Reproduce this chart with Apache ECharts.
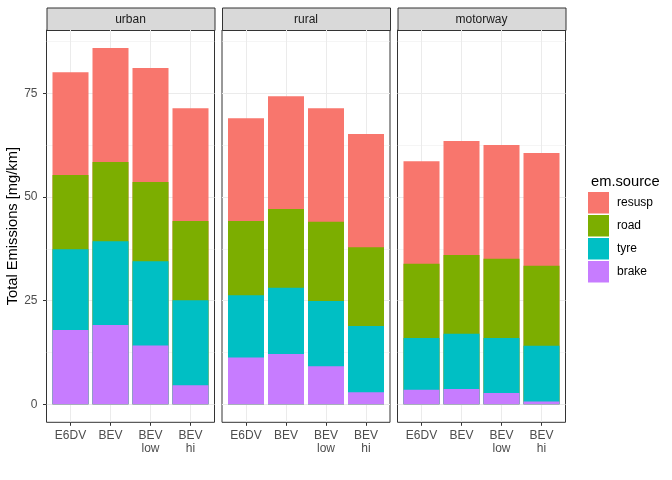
<!doctype html>
<html>
<head>
<meta charset="utf-8">
<script src="https://cdn.jsdelivr.net/npm/echarts@6/dist/echarts.min.js"></script>
<style>
    html, body { margin: 0; padding: 0; background: #fff; }
    #main { width: 672px; height: 480px; }
</style>
</head>
<body>
<div id="main"></div>
<script>
// data (segment sizes, mg/km)
var categories = ['E6DV', 'BEV', 'BEV\nlow', 'BEV\nhi'];
var panels = ['urban', 'rural', 'motorway'];
var sources = ['resusp', 'road', 'tyre', 'brake'];   // legend order
var stackOrder = ['brake', 'tyre', 'road', 'resusp']; // bottom to top
var colors = { resusp: '#F8766D', road: '#7CAE00', tyre: '#00BFC4', brake: '#C77CFF' };

var brakeUrban  = [17.9, 19.1, 14.2, 4.6];
var tyreUrban   = [19.5, 20.2, 20.3, 20.5];
var roadUrban   = [17.9, 19.1, 19.1, 19.1];
var resuspUrban = [24.8, 27.5, 27.5, 27.2];

var brakeRural  = [11.3, 12.1, 9.2, 2.9];
var tyreRural   = [15.0, 16.0, 15.7, 16.0];
var roadRural   = [17.9, 19.0, 19.1, 19.0];
var resuspRural = [24.8, 27.2, 27.4, 27.3];

var brakeMotorway  = [3.5, 3.7, 2.7, 0.7];
var tyreMotorway   = [12.5, 13.3, 13.3, 13.4];
var roadMotorway   = [17.9, 19.0, 19.1, 19.3];
var resuspMotorway = [24.7, 27.5, 27.4, 27.2];

var yTicks = [0, 25, 50, 75];
var yMinor = [12.5, 37.5, 62.5, 87.5];

var panelData = {
    urban:    { brake: brakeUrban, tyre: tyreUrban, road: roadUrban, resusp: resuspUrban },
    rural:    { brake: brakeRural, tyre: tyreRural, road: roadRural, resusp: resuspRural },
    motorway: { brake: brakeMotorway, tyre: tyreMotorway, road: roadMotorway, resusp: resuspMotorway }
};

var FONT = 'Liberation Sans, Arial, sans-serif';
var panelLeft = [46.5, 222, 397.5];
var panelW = 168, panelTop = 30, panelH = 392.3;
var yMin = -4.34, yMax = 90.26;

var grids = [], xAxes = [], yAxes = [], series = [], graphics = [];

panels.forEach(function (p, i) {
    grids.push({
        left: panelLeft[i], top: panelTop, width: panelW, height: panelH,
        show: true, borderColor: '#333333', borderWidth: 1, backgroundColor: '#fff'
    });
    xAxes.push({
        type: 'value', gridIndex: i, min: 0.4, max: 4.6,
        axisLine: { show: false, onZero: false },
        axisTick: { show: true, length: 3.5, customValues: [1, 2, 3, 4], lineStyle: { color: '#333333' } },
        axisLabel: {
            customValues: [1, 2, 3, 4], margin: 7, color: '#4D4D4D', fontSize: 12,
            fontFamily: FONT, lineHeight: 13,
            formatter: function (v) { return categories[Math.round(v) - 1]; }
        },
        splitLine: { show: true, lineStyle: { color: '#EBEBEB', width: 1 } }
    });
    // major y axis
    yAxes.push({
        type: 'value', gridIndex: i, min: yMin, max: yMax, position: 'left',
        name: i === 0 ? 'Total Emissions [mg/km]' : '',
        nameLocation: 'middle', nameGap: 26,
        nameTextStyle: { color: '#000', fontSize: 14.7, fontFamily: FONT },
        axisLine: { show: false, onZero: false },
        axisTick: { show: i === 0, length: 3.5, customValues: yTicks, lineStyle: { color: '#333333' } },
        axisLabel: { show: i === 0, customValues: yTicks, margin: 9, color: '#4D4D4D', fontSize: 12, fontFamily: FONT },
        splitLine: { show: true, lineStyle: { color: '#EBEBEB', width: 1 } }
    });
    // minor y grid lines
    yAxes.push({
        type: 'value', gridIndex: i, min: yMin, max: yMax, position: 'right',
        axisLine: { show: false, onZero: false },
        axisTick: { show: false, customValues: yMinor },
        axisLabel: { show: false, customValues: yMinor },
        splitLine: { show: true, lineStyle: { color: '#EBEBEB', width: 0.5 } }
    });

    // cumulative tops of each segment, drawn top segment first so lower ones overlay it
    var tops = {};
    var run = [0, 0, 0, 0];
    stackOrder.forEach(function (s) {
        run = run.map(function (r, k) { return r + panelData[p][s][k]; });
        tops[s] = run.slice();
    });
    stackOrder.slice().reverse().forEach(function (s) {
        series.push({
            name: s, type: 'bar',
            xAxisIndex: i, yAxisIndex: i * 2,
            barWidth: 36, barGap: '-100%',
            itemStyle: { color: colors[s] },
            data: tops[s].map(function (v, k) { return [k + 1, v]; })
        });
    });

    // facet strip
    graphics.push({
        type: 'rect', left: panelLeft[i], top: 7.5,
        shape: { width: panelW, height: 22.5 },
        style: { fill: '#D9D9D9', stroke: '#333333', lineWidth: 1 }
    });
    graphics.push({
        type: 'text', x: panelLeft[i] + panelW / 2, y: 19.5,
        style: { text: p, fill: '#1A1A1A', font: '12px ' + FONT, align: 'center', verticalAlign: 'middle' }
    });
});

var myChart = echarts.init(document.getElementById('main'), null, { renderer: 'canvas' });
myChart.setOption({
    animation: false,
    backgroundColor: '#fff',
    title: {
        text: 'em.source', left: 586, top: 169,
        textStyle: { color: '#000', fontSize: 14.7, fontWeight: 'normal', fontFamily: FONT }
    },
    legend: {
        orient: 'vertical', left: 588, top: 192,
        data: sources,
        icon: 'rect', itemWidth: 21, itemHeight: 21.5, itemGap: 1.5,
        padding: 0,
        textStyle: { color: '#000', fontSize: 12, fontFamily: FONT, padding: [0, 0, 0, 3] }
    },
    grid: grids,
    xAxis: xAxes,
    yAxis: yAxes,
    series: series,
    graphic: graphics
});
</script>
</body>
</html>
